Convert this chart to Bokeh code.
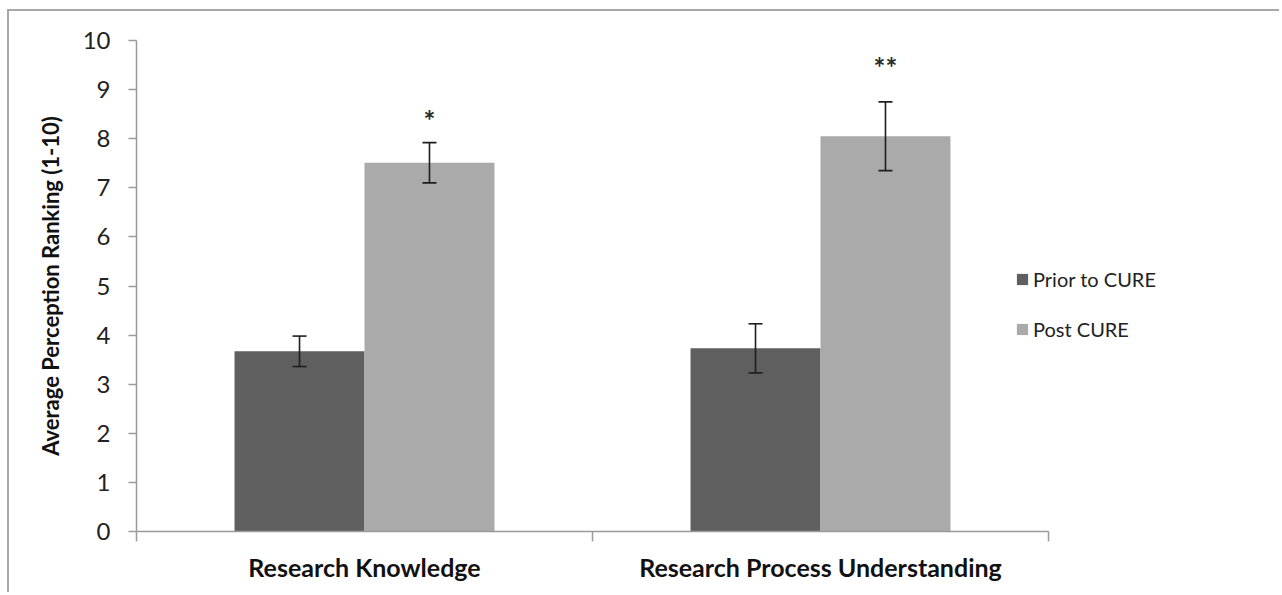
from bokeh.plotting import figure
from bokeh.models import (ColumnDataSource, Whisker, FixedTicker,
                          Legend, LegendItem, Range1d)
from bokeh.core.properties import value
from bokeh.embed import file_html
from bokeh.resources import INLINE

# --- data -----------------------------------------------------------------
categories = ["Research Knowledge", "Research Process Understanding"]
series_names = ["Prior to CURE", "Post CURE"]
prior_mean = [3.67, 3.73]
prior_err = [0.31, 0.50]
post_mean = [7.51, 8.05]
post_err = [0.41, 0.70]
significance = ["*", "**"]
y_ticks = [0, 1, 2, 3, 4, 5, 6, 7, 8, 9, 10]

# --- styling --------------------------------------------------------------
FONT = "Lato"
DARK = "#5f5f5f"
LIGHT = "#aaaaaa"
AXIS = "#9a9a9a"
BAR_W = 0.285
OFFSET = 0.1425

n_cat = len(categories)
centers = [i + 0.5 for i in range(n_cat)]


def make_source(means, errs, shift):
    return ColumnDataSource(dict(
        x=[c + shift for c in centers],
        top=means,
        lower=[m - e for m, e in zip(means, errs)],
        upper=[m + e for m, e in zip(means, errs)],
    ))


prior_src = make_source(prior_mean, prior_err, -OFFSET)
post_src = make_source(post_mean, post_err, OFFSET)

# the x range runs past the last group to leave room for the legend
p = figure(width=1272, height=583, output_backend="svg", toolbar_location=None,
           x_range=Range1d(0, n_cat + 0.5), y_range=Range1d(0, 10),
           min_border_left=127, min_border_right=5, min_border_top=29,
           min_border_bottom=63)
p.margin = (9, 0, 0, 7)
p.styles = {"border-top": "2px solid #a8a8a8", "border-left": "2px solid #a8a8a8"}
p.outline_line_color = None
p.grid.visible = False
p.background_fill_color = "white"

r_prior = p.vbar(x="x", top="top", bottom=0, width=BAR_W, source=prior_src,
                 fill_color=DARK, line_color=None)
r_post = p.vbar(x="x", top="top", bottom=0, width=BAR_W, source=post_src,
                fill_color=LIGHT, line_color=None)

for src in (prior_src, post_src):
    w = Whisker(base="x", lower="lower", upper="upper", source=src,
                level="overlay", line_color="#1e1e1e", line_width=1.6)
    for head in (w.lower_head, w.upper_head):
        head.size = 14
        head.line_color = "#1e1e1e"
        head.line_width = 1.6
    p.add_layout(w)

# significance markers above the post-CURE error bars
sig_src = ColumnDataSource(dict(
    x=post_src.data["x"],
    y=post_src.data["upper"],
    label=significance,
    dy=[-23, -35],
))
p.text(x="x", y="y", text="label", y_offset="dy", source=sig_src,
       text_align="center", text_baseline="middle",
       text_font=value(FONT), text_font_style="bold",
       text_font_size="28px", text_color="#2a2a2a")

# y axis
ya = p.yaxis[0]
ya.ticker = FixedTicker(ticks=y_ticks)
ya.axis_label = "Average Perception Ranking (1-10)"
ya.axis_label_text_font = FONT
ya.axis_label_text_font_style = "bold"
ya.axis_label_text_font_size = "22px"
ya.axis_label_text_color = "#111111"
ya.axis_label_standoff = 16
ya.major_label_text_font = FONT
ya.major_label_text_font_size = "24px"
ya.major_label_text_color = "#222222"
ya.major_label_standoff = 18
ya.axis_line_color = AXIS
ya.axis_line_width = 1.5
ya.major_tick_line_color = AXIS
ya.major_tick_line_width = 1.5
ya.major_tick_out = 8
ya.major_tick_in = 0
ya.minor_tick_line_color = None

# x axis: names at the group centres, tick marks on the group boundaries
xa = p.xaxis[0]
xa.bounds = (0, n_cat)
xa.ticker = FixedTicker(ticks=centers, minor_ticks=list(range(n_cat + 1)))
xa.major_label_overrides = {c: n for c, n in zip(centers, categories)}
xa.major_label_text_font = FONT
xa.major_label_text_font_style = "bold"
xa.major_label_text_font_size = "25px"
xa.major_label_text_color = "#111111"
xa.major_label_standoff = 10
xa.axis_line_color = AXIS
xa.axis_line_width = 1.5
xa.major_tick_line_color = None
xa.minor_tick_line_color = AXIS
xa.minor_tick_line_width = 1.5
xa.minor_tick_out = 10
xa.minor_tick_in = 0

legend = Legend(items=[LegendItem(label=series_names[0], renderers=[r_prior]),
                       LegendItem(label=series_names[1], renderers=[r_post])],
                location=(879, 190), orientation="vertical",
                glyph_width=14, glyph_height=14, label_height=20,
                spacing=26, padding=0, margin=0, label_standoff=4,
                label_text_font=FONT, label_text_font_size="20px",
                label_text_color="#222222",
                background_fill_alpha=0, border_line_color=None)
p.add_layout(legend, "center")

open("out.html", "w").write(file_html(p, INLINE))
